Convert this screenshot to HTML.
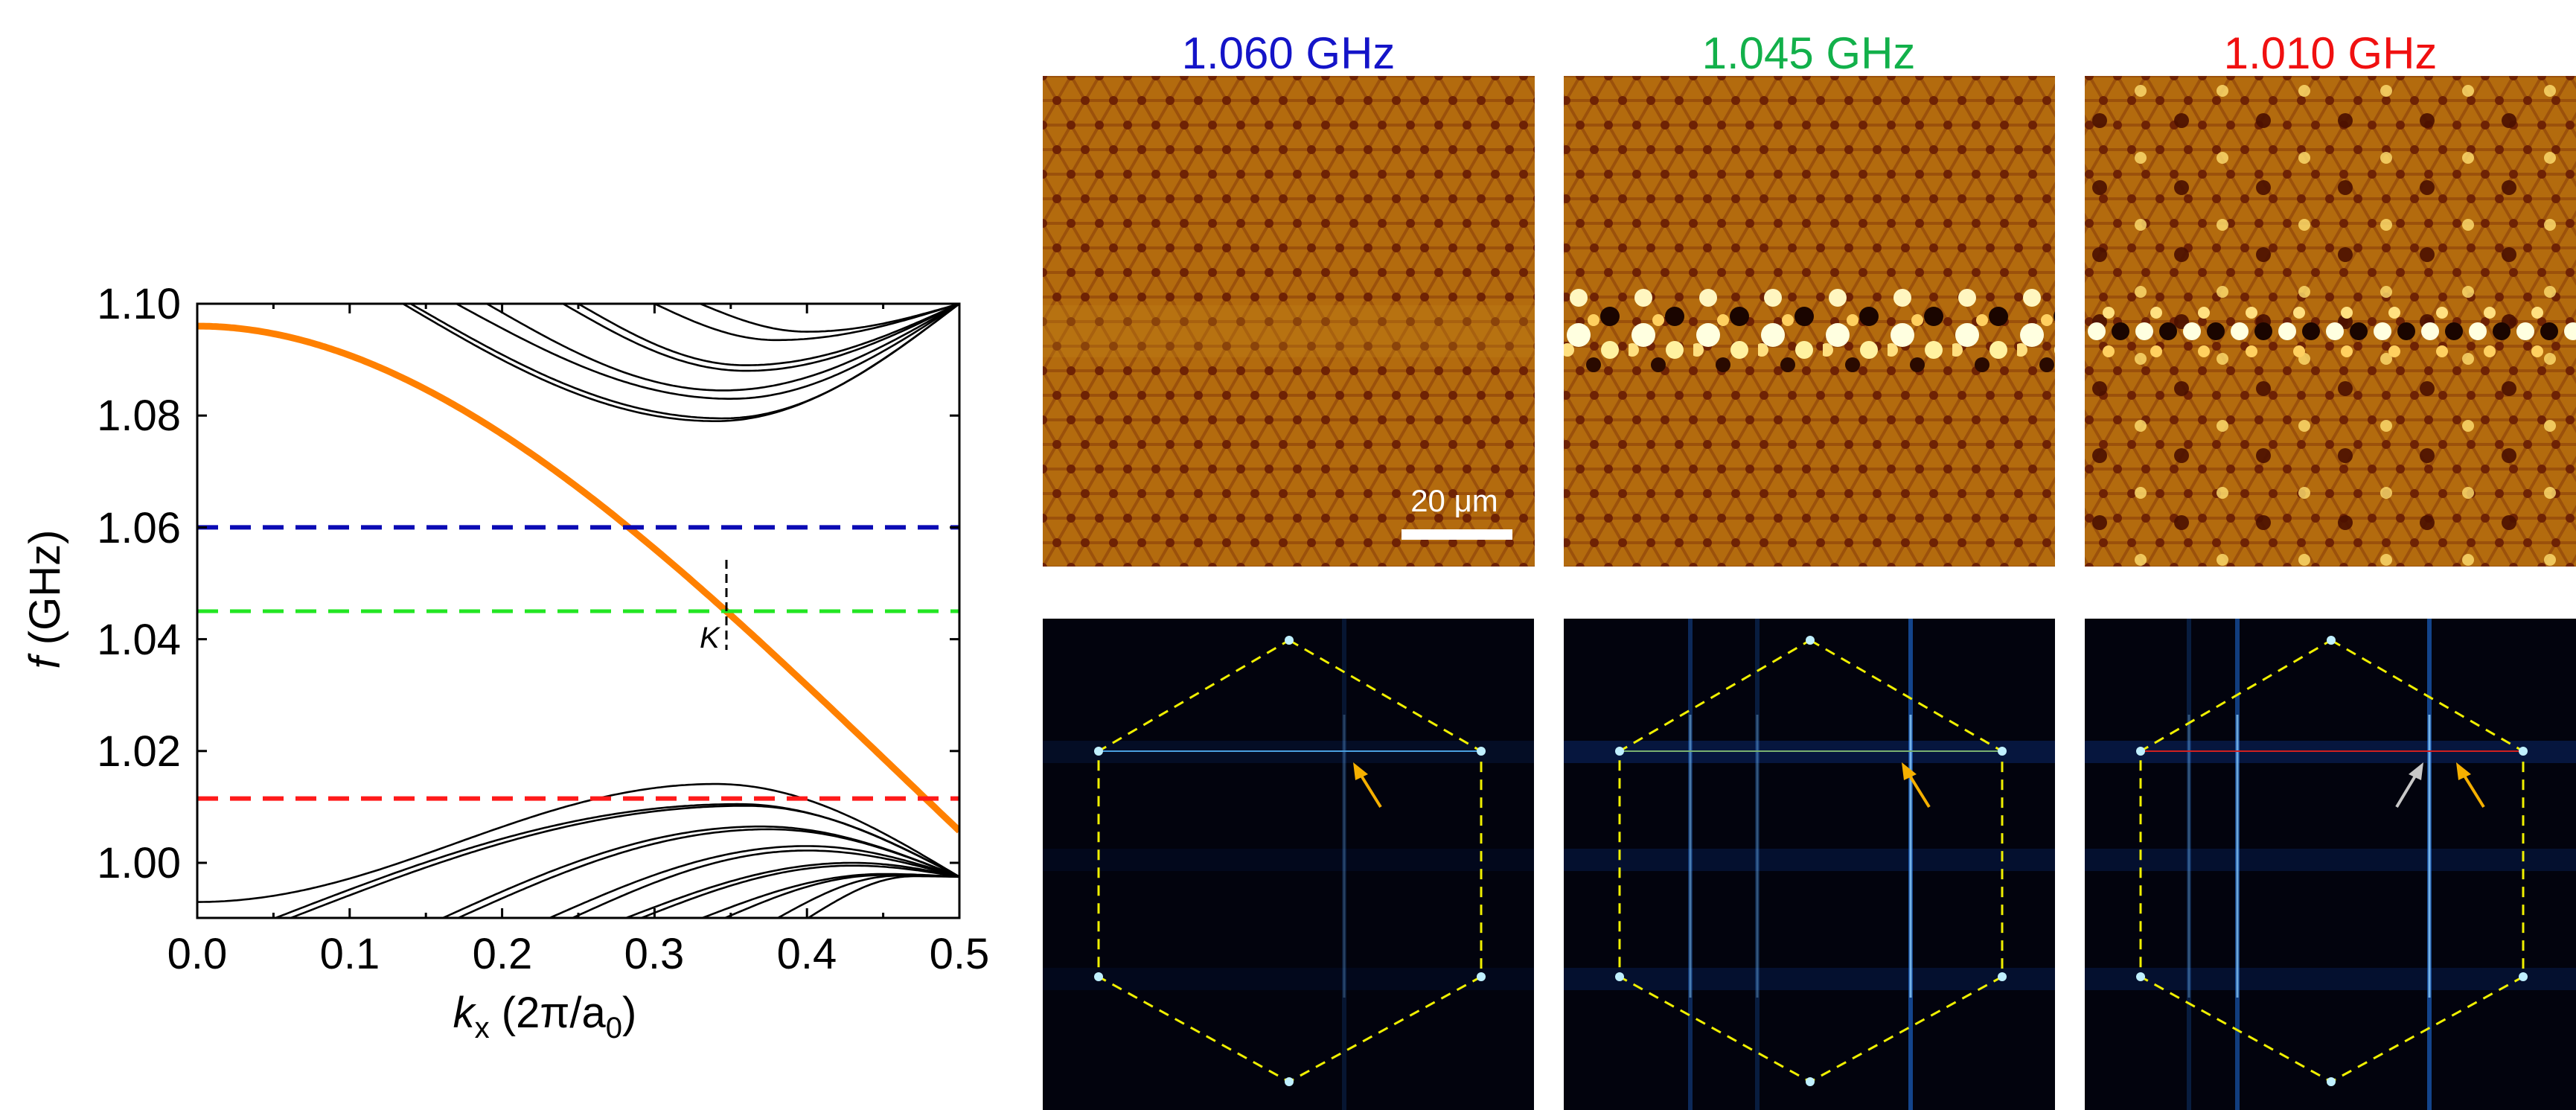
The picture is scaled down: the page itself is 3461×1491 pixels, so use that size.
<!DOCTYPE html>
<html><head><meta charset="utf-8"><style>
html,body{margin:0;background:#fff;overflow:hidden;width:3461px;height:1491px;}
svg{display:block;}
</style></head><body>
<svg id="s" width="3461" height="1491" xmlns="http://www.w3.org/2000/svg" font-family="Liberation Sans, sans-serif">
<defs>
<pattern id="lat" width="38" height="66" patternUnits="userSpaceOnUse" x="1401" y="102">
<rect width="38" height="66" fill="#b36b0e"/>
<g stroke="#8a3f08" stroke-width="4" opacity="0.6">
<line x1="0" y1="0" x2="38" y2="0"/><line x1="0" y1="33" x2="38" y2="33"/><line x1="0" y1="66" x2="38" y2="66"/>
<line x1="0" y1="0" x2="38" y2="66"/><line x1="38" y1="0" x2="0" y2="66"/>
</g>
<g fill="#6e2204"><circle cx="0" cy="0" r="6"/><circle cx="38" cy="0" r="6"/><circle cx="0" cy="66" r="6"/><circle cx="38" cy="66" r="6"/><circle cx="19" cy="33" r="6"/></g>
</pattern>
<pattern id="band" width="87" height="140" patternUnits="userSpaceOnUse" x="2101" y="370">
<circle cx="20" cy="30" r="12" fill="#fff6c0"/><circle cx="62" cy="55" r="13" fill="#1a0500"/>
<circle cx="20" cy="80" r="16" fill="#ffffe0"/><circle cx="62" cy="100" r="12" fill="#fff2a0"/>
<circle cx="40" cy="120" r="10" fill="#2a0a00"/><circle cx="5" cy="100" r="9" fill="#ffe080"/>
<circle cx="40" cy="60" r="8" fill="#ffd060"/>
</pattern>
<pattern id="band3" width="64" height="80" patternUnits="userSpaceOnUse" x="2801" y="410">
<circle cx="16" cy="35" r="12" fill="#ffffe0"/><circle cx="48" cy="35" r="12" fill="#1a0500"/>
<circle cx="32" cy="10" r="8" fill="#ffe080"/><circle cx="32" cy="62" r="8" fill="#ffd060"/>
</pattern>
<pattern id="spots" width="110" height="90" patternUnits="userSpaceOnUse" x="2801" y="102">
<circle cx="20" cy="60" r="10" fill="#4a1000" opacity="0.9"/><circle cx="75" cy="20" r="8" fill="#ffe070" opacity="0.8"/>
</pattern>
</defs>

<g id="chart">
<clipPath id="cp"><rect x="265" y="408" width="1024" height="825"/></clipPath>
<g clip-path="url(#cp)" id="curves" fill="none"></g>
<rect x="265" y="408" width="1024" height="825" fill="none" stroke="#000" stroke-width="3"/>
<g id="ticks" stroke="#000" stroke-width="3"></g>
<g font-size="58" text-anchor="end" fill="#000">
<text x="243" y="428">1.10</text><text x="243" y="578">1.08</text><text x="243" y="729">1.06</text>
<text x="243" y="879">1.04</text><text x="243" y="1029">1.02</text><text x="243" y="1179">1.00</text>
</g>
<g font-size="58" text-anchor="middle" fill="#000">
<text x="265" y="1301">0.0</text><text x="470" y="1301">0.1</text><text x="675" y="1301">0.2</text>
<text x="879" y="1301">0.3</text><text x="1084" y="1301">0.4</text><text x="1289" y="1301">0.5</text>
</g>
<text x="732" y="1380" font-size="58" text-anchor="middle"><tspan font-style="italic">k</tspan><tspan font-size="40" dy="14">x</tspan><tspan dy="-14"> (2π/a</tspan><tspan font-size="40" dy="14">0</tspan><tspan dy="-14">)</tspan></text>
<text transform="translate(80,805) rotate(-90)" font-size="58" text-anchor="middle"><tspan font-style="italic">f</tspan> (GHz)</text>
<text x="940" y="870" font-size="40" font-style="italic">K</text>
</g>

<g font-size="60" text-anchor="middle" font-family="Liberation Sans Narrow, Liberation Sans, sans-serif">
<text x="1731" y="92" fill="#1414c8">1.060 GHz</text>
<text x="2430" y="92" fill="#12b04a">1.045 GHz</text>
<text x="3131" y="92" fill="#f01010">1.010 GHz</text>
</g>

<rect x="1401" y="102" width="661" height="659" fill="url(#lat)"/>
<rect x="1401" y="410" width="661" height="70" fill="#c08018" opacity="0.35"/>
<rect x="2101" y="102" width="660" height="659" fill="url(#lat)"/>
<rect x="2101" y="370" width="660" height="140" fill="url(#band)"/>
<rect x="2801" y="102" width="660" height="659" fill="url(#lat)"/>
<rect x="2801" y="102" width="660" height="659" fill="url(#spots)"/>
<rect x="2801" y="410" width="660" height="80" fill="url(#band3)"/>
<text x="1954" y="687" font-size="42" fill="#fff" text-anchor="middle">20 μm</text>
<rect x="1883" y="711" width="149" height="14" fill="#fff"/>

<g id="bot"></g>
</svg>
<script>
(function(){
var NS="http://www.w3.org/2000/svg";
function el(t,a,p){var e=document.createElementNS(NS,t);for(var k in a)e.setAttribute(k,a[k]);p.appendChild(e);return e;}
var X=function(k){return 265+k*2048;}, Y=function(f){return 408+(1.10-f)/0.02*150.2;};
var cv=document.getElementById('curves');
function path(fn,st){var d="";for(var i=0;i<=250;i++){var k=i/500;var f=fn(k);d+=(i?"L":"M")+X(k).toFixed(1)+","+Y(f).toFixed(1);}el('path',Object.assign({d:d},st),cv);}
var blk={stroke:"#000","stroke-width":2.6,fill:"none"};
function sh(t){return t<=1?1-Math.cos(Math.PI/2*t):1+(Math.PI/2)*(t-1);}
var up=[[1.0790,0.34,0.135],[1.0795,0.345,0.14],[1.083,0.35,0.17],[1.0845,0.345,0.19],[1.088,0.36,0.24],[1.089,0.36,0.25],[1.0935,0.38,0.30],[1.095,0.40,0.33]];
up.forEach(function(c){path(function(k){var fm=c[0],km=c[1],kl=c[2];var t=k<km?(km-k)/(km-kl):(k-km)/(0.5-km);return fm+(1.10-fm)*sh(t);},blk);});
path(function(k){if(k<0.34){var s=Math.sin(Math.PI/2*k/0.34);return 0.993+0.0211*s*s;}var t=(k-0.34)/0.16;return 1.0141-(1.0141-0.9975)*sh(t);},blk);
var lo=[[1.0105,0.355,0.05],[1.0102,0.36,0.06],[1.0065,0.37,0.16],[1.006,0.375,0.17],[1.003,0.40,0.23],[1.0022,0.40,0.245],[1.000,0.43,0.28],[0.9995,0.43,0.29],[0.998,0.45,0.33],[0.9978,0.45,0.345],[0.9977,0.46,0.38],[0.9976,0.47,0.40]];
lo.forEach(function(c){path(function(k){var fm=c[0],km=c[1],kb=c[2];if(k<km){var t=(km-k)/(km-kb);return fm-(fm-0.99)*sh(t);}var t=(k-km)/(0.5-km);return fm-(fm-0.9975)*sh(t);},blk);});
path(function(k){return 1.096-0.5645*k*k+0.4067*k*k*k;},{stroke:"#ff8000","stroke-width":9,fill:"none","stroke-linejoin":"round"});
el('line',{x1:265,x2:1289,y1:Y(1.06),y2:Y(1.06),stroke:"#0a0ab4","stroke-width":6,"stroke-dasharray":"28 16"},cv);
el('line',{x1:265,x2:1289,y1:Y(1.045),y2:Y(1.045),stroke:"#22e622","stroke-width":5,"stroke-dasharray":"28 16"},cv);
el('line',{x1:265,x2:1289,y1:Y(1.0115),y2:Y(1.0115),stroke:"#ff1a1a","stroke-width":6,"stroke-dasharray":"28 16"},cv);
el('line',{x1:976,x2:976,y1:752,y2:873,stroke:"#000","stroke-width":3,"stroke-dasharray":"12 7"},cv);
var tk=document.getElementById('ticks');
for(var i=0;i<=10;i++){var x=X(i*0.05),L=i%2?7:13;el('line',{x1:x,x2:x,y1:1233,y2:1233-L},tk);el('line',{x1:x,x2:x,y1:408,y2:408+L},tk);}
for(var j=0;j<=5;j++){var y=Y(1.10-j*0.02);el('line',{x1:265,x2:278,y1:y,y2:y},tk);el('line',{x1:1289,x2:1276,y1:y,y2:y},tk);}
var bot=document.getElementById('bot');
var xs=[1401,2101,2801], lc=["#4aa0e0","#7ab070","#d02020"];
var streaks=[[[405,0.3]],[[170,0.6],[260,0.4],[466,1]],[[205,0.9],[463,1],[140,0.4]]];
xs.forEach(function(x0,p){
 el('rect',{x:x0,y:831,width:660,height:660,fill:"#02030d"},bot);
 el('rect',{x:x0,y:995,width:660,height:30,fill:"#0a2a70",opacity:p?0.5:0.25},bot);
 el('rect',{x:x0,y:1140,width:660,height:30,fill:"#0a2a70",opacity:p?0.35:0.15},bot);
 el('rect',{x:x0,y:1300,width:660,height:30,fill:"#0a2a70",opacity:p?0.35:0.15},bot);
 streaks[p].forEach(function(s){el('rect',{x:x0+s[0]-3,y:831,width:6,height:660,fill:"#1f6fe0",opacity:s[1]*0.6},bot);el('rect',{x:x0+s[0]-1.5,y:960,width:3,height:380,fill:"#8fd0ff",opacity:s[1]*0.8},bot);});
 var a=x0+75,b=x0+589,c=x0+331;
 el('line',{x1:a,x2:b,y1:1009,y2:1009,stroke:lc[p],"stroke-width":2},bot);
 el('polygon',{points:c+",860 "+b+",1009 "+b+",1312 "+c+",1453 "+a+",1312 "+a+",1009",fill:"none",stroke:"#f0f000","stroke-width":3,"stroke-dasharray":"14 10"},bot);
 [[c,860],[b,1009],[b,1312],[c,1453],[a,1312],[a,1009]].forEach(function(q){el('circle',{cx:q[0],cy:q[1],r:6,fill:"#c0f0ff"},bot);});
 var ax=[1818-1401,2555-2101,3300-2801][p];
 el('line',{x1:x0+ax+37,y1:1084,x2:x0+ax+6,y2:1034,stroke:"#f5b000","stroke-width":4},bot);
 el('polygon',{points:(x0+ax)+",1024 "+(x0+ax+20)+",1040 "+(x0+ax+3)+",1048",fill:"#f5b000"},bot);
});
el('line',{x1:3220,y1:1084,x2:3250,y2:1034,stroke:"#c8c8c8","stroke-width":4},bot);
el('polygon',{points:"3256,1024 3236,1040 3253,1048",fill:"#c8c8c8"},bot);
})();
</script>
</body></html>
